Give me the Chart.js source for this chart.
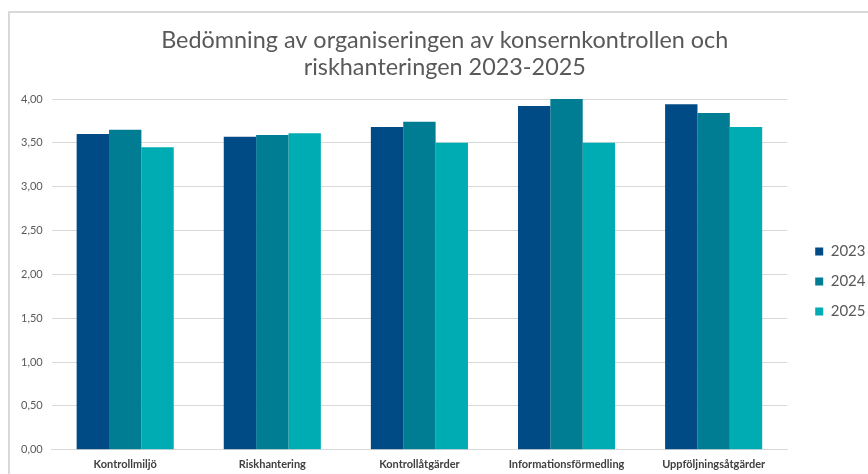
<!DOCTYPE html>
<html>
<head>
<meta charset="utf-8">
<script src="https://cdn.jsdelivr.net/npm/chart.js@4"></script>
<style>
    html, body { margin: 0; padding: 0; background: #fff; overflow: hidden; }
    .frame {
        position: absolute; left: 8px; top: 11px;
        width: 900px; height: 500px;
        border-left: 2px solid #d9d9d9; border-top: 2px solid #d9d9d9;
    }
    .wrap { position: absolute; left: 0; top: 0; width: 868px; height: 479px; }
</style>
</head>
<body>
<div class="frame"></div>
<div class="wrap"><canvas id="chart"></canvas></div>
<script>
// Data
const categories = ['Kontrollmiljö', 'Riskhantering', 'Kontrollåtgärder', 'Informationsförmedling', 'Uppföljningsåtgärder'];
const values2023 = [3.60, 3.57, 3.68, 3.92, 3.94];
const values2024 = [3.65, 3.59, 3.74, 4.00, 3.84];
const values2025 = [3.45, 3.61, 3.50, 3.50, 3.68];
const yTicks = [0, 0.5, 1, 1.5, 2, 2.5, 3, 3.5, 4];

const titleLines = ['Bedömning av organiseringen av konsernkontrollen och', 'riskhanteringen 2023-2025'];

const fmt = v => v.toFixed(2).replace('.', ',');

// nudge legend away from the plot and centre the title over the whole frame
const layoutTweaks = {
    id: 'layoutTweaks',
    afterLayout(chart) {
        const lg = chart.legend;
        if (lg) {
            lg.left += 13; lg.right += 13;
            lg.top += 7; lg.bottom += 7;
        }
        if (chart.titleBlock) {
            chart.titleBlock.left += 15;
        }
    }
};

const ctx = document.getElementById('chart');
new Chart(ctx, {
    type: 'bar',
    data: {
        labels: categories,
        datasets: [
            { label: '2023', data: values2023, backgroundColor: '#004A86' },
            { label: '2024', data: values2024, backgroundColor: '#007D92' },
            { label: '2025', data: values2025, backgroundColor: '#00ACB3' }
        ]
    },
    options: {
        responsive: true,
        maintainAspectRatio: false,
        animation: false,
        layout: { padding: { left: 12, right: 5.5, top: 14, bottom: 0 } },
        datasets: { bar: { barPercentage: 1, categoryPercentage: 0.66, borderWidth: 0 } },
        plugins: {
            title: {
                display: true,
                text: titleLines,
                color: '#595959',
                font: { family: 'Lato', size: 23.4, weight: 'normal', lineHeight: 1.154 },
                padding: { top: 12.5, bottom: 18.5 }
            },
            legend: {
                position: 'right',
                fullSize: false,
                labels: {
                    boxWidth: 8, boxHeight: 8,
                    color: '#595959',
                    padding: 15,
                    font: { family: 'Lato', size: 15 }
                }
            },
            tooltip: { enabled: false }
        },
        scales: {
            x: {
                grid: { display: false, drawTicks: false },
                border: { display: true, color: '#d9d9d9', width: 1 },
                ticks: {
                    color: '#404040', padding: 8,
                    font: { family: 'Lato', size: 11, weight: 'bold' }
                }
            },
            y: {
                min: 0, max: 4,
                afterBuildTicks: axis => { axis.ticks = yTicks.map(v => ({ value: v })); },
                grid: { color: '#d9d9d9', lineWidth: 1, drawTicks: false },
                border: { display: false },
                ticks: {
                    color: '#595959', padding: 9,
                    font: { family: 'Lato', size: 11 },
                    callback: v => fmt(v)
                }
            }
        }
    },
    plugins: [layoutTweaks]
});
</script>
</body>
</html>
